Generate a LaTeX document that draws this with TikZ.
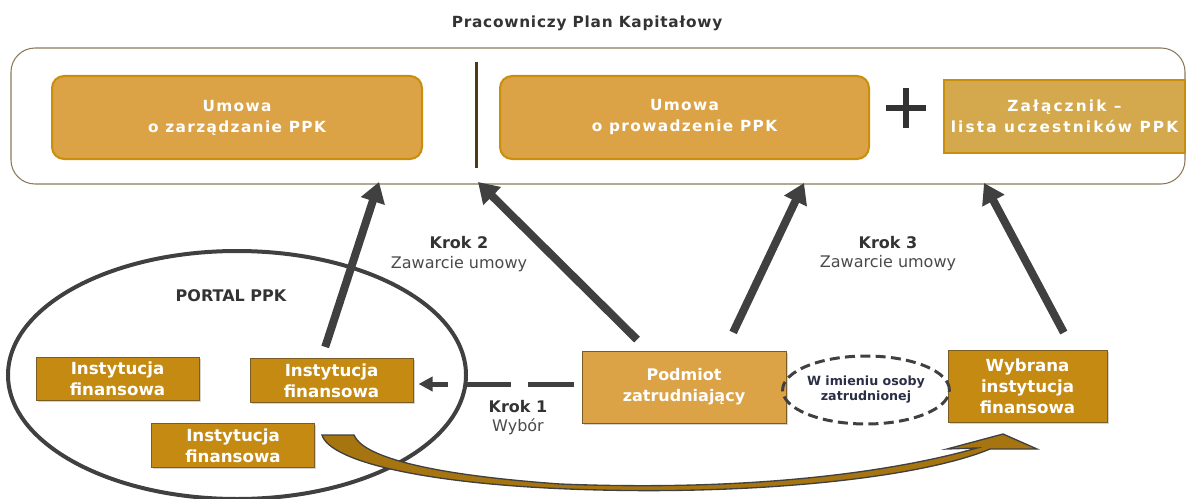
\documentclass[tikz,border=0pt]{standalone}
\usepackage{fontspec}
\setmainfont{DejaVu Sans}
\usepackage{tikz}
\usetikzlibrary{arrows.meta,shapes.geometric,shadows}

\definecolor{gold}{HTML}{DBA246}
\definecolor{goldpale}{HTML}{D4A84C}
\definecolor{goldline}{HTML}{C88E0C}
\definecolor{golddeep}{HTML}{C48A12}
\definecolor{deepline}{HTML}{7A5C24}
\definecolor{framegray}{HTML}{8A7A5A}
\definecolor{divider}{HTML}{4F3A16}
\definecolor{arrowgray}{HTML}{404040}
\definecolor{titlegray}{HTML}{333333}
\definecolor{krokgray}{HTML}{4A4A4A}
\definecolor{inktext}{HTML}{2B2F45}
\definecolor{swoosh}{HTML}{A6750F}

\newcommand{\boldtxt}{\fontsize{12}{15.75}\selectfont\bfseries}
\newcommand{\widetxt}{\fontsize{11.5}{15.75}\selectfont\bfseries\addfontfeature{LetterSpace=9}}
\newcommand{\insttxt}{\fontsize{12.5}{15.75}\selectfont\bfseries}

\begin{document}
\begin{tikzpicture}[x=0.75pt,y=-0.75pt,
    font=\fontsize{12}{15.75}\selectfont]
\useasboundingbox (0,0) rectangle (1187,499);

\node[font=\fontsize{11.5}{14}\selectfont\bfseries\addfontfeature{LetterSpace=5},text=titlegray] (title) at (587,23) {Pracowniczy Plan Kapitałowy};

\node[draw=framegray,line width=0.8pt,rounded corners=18pt,
      minimum width=880.5pt,minimum height=102pt] (frame) at (598,116) {};

% umowy
\begin{scope}[every node/.style={draw=goldline,line width=1.5pt,fill=gold,text=white,
              font=\widetxt,align=center,minimum height=62.25pt}]
    \node[rounded corners=9pt,minimum width=277.5pt] (umowa1) at (237,117.5) {Umowa\\o zarządzanie PPK};
    \node[rounded corners=9pt,minimum width=276.75pt] (umowa2) at (684.5,117.5) {Umowa\\o prowadzenie PPK};
    \node[fill=goldpale,font=\widetxt\addfontfeature{LetterSpace=14},
          minimum width=180.75pt,minimum height=54.75pt] (zalacznik) at (1064.5,116.5) {Załącznik –\\lista uczestników PPK};
\end{scope}
\draw[line width=2.25pt,divider] (476,62) -- (476,168);
\draw[line width=4pt,titlegray] (886,108) -- (926,108) (906,88) -- (906,128);

% portal
\node[ellipse,draw=arrowgray,line width=3pt,minimum width=343.5pt,minimum height=186pt] (portal) at (237,375) {};
\node[font=\boldtxt,text=titlegray] (portallabel) at (231,296) {PORTAL PPK};

\begin{scope}[every node/.style={draw=deepline,line width=0.75pt,fill=golddeep,text=white,
              font=\insttxt,align=center,minimum width=122.25pt,minimum height=32.5pt,
              drop shadow={opacity=0.35,shadow xshift=1.2pt,shadow yshift=-1.2pt}}]
    \node (if1) at (117.5,379) {Instytucja\\finansowa};
    \node (if2) at (331.5,380.5) {Instytucja\\finansowa};
    \node (if3) at (233,445.5) {Instytucja\\finansowa};
    \node[minimum width=119.25pt,minimum height=54pt] (wybrana) at (1027.5,386) {Wybrana\\instytucja\\finansowa};
    \node[fill=gold,font=\boldtxt,minimum width=153pt,minimum height=54pt] (podmiot) at (684,387) {Podmiot\\zatrudniający};
\end{scope}

\node[ellipse,draw=arrowgray,line width=2.25pt,dash pattern=on 7.5pt off 4pt,
      minimum width=118.5pt,minimum height=51pt,inner sep=0pt,align=center,text=inktext,
      font=\bfseries\fontsize{9.5}{11.25}\selectfont] (osoba) at (866,390) {W imieniu osoby\\zatrudnionej};

% kroki
\node[font=\boldtxt,text=titlegray] (krok1) at (518,407) {Krok 1};
\node[text=krokgray] (wybor) at (518,427) {Wybór};
\node[font=\boldtxt,text=titlegray] (krok2) at (459,243) {Krok 2};
\node[text=krokgray] (zawarcie2) at (459,264) {Zawarcie umowy};
\node[font=\boldtxt,text=titlegray] (krok3) at (888,243) {Krok 3};
\node[text=krokgray] (zawarcie3) at (888,263) {Zawarcie umowy};

\coordinate (t1) at (379,182);
\coordinate (t2) at (478,182);
\coordinate (t3) at (804,183);
\coordinate (t4) at (984,183);

\begin{scope}[>={Triangle[length=15pt,width=18pt]},
              every edge/.style={draw=arrowgray,line width=6pt}]
    \path [->] ([xshift=-7.5pt]if2.north) edge[shorten <=9pt] (t1);
    \path [->] ([xshift=-27pt]podmiot.north) edge[shorten <=11.6pt] (t2);
    \path [->] ([xshift=30.4pt]podmiot.north) edge[shorten <=15pt] (t3);
    \path [->] ([xshift=34pt]wybrana.north) edge[shorten <=14.4pt] (t4);
\end{scope}

\draw[arrowgray,line width=3.75pt,dash pattern=on 34.5pt off 12.75pt,
      -{Triangle[length=10.5pt,width=10.5pt]},shorten <=6pt,shorten >=3.75pt]
    ([yshift=2.25pt]podmiot.west) -- ([yshift=2.25pt]podmiot.west -| if2.east);

% wybor instytucji
\draw[draw=arrowgray,line width=1pt,fill=swoosh,line join=miter]
    (322,435) -- (354,435)
    .. controls (362,455) and (420,474) .. (560,484)
    .. controls (760,492) and (900,470) .. (977,448)
    -- (947,449) -- (1003,434) -- (1037,449) -- (990,449)
    .. controls (920,478) and (760,494) .. (600,490)
    .. controls (430,486) and (330,462) .. (322,435) -- cycle;
\end{tikzpicture}
\end{document}
